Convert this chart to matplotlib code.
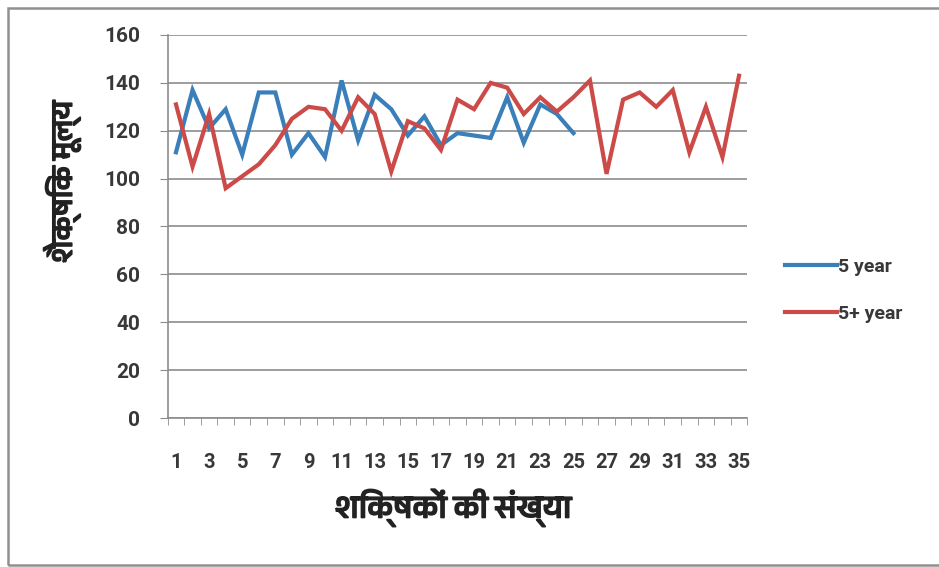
import matplotlib
matplotlib.use("Agg")
import matplotlib.pyplot as plt
from matplotlib import font_manager as fm
from matplotlib.patches import Rectangle
import matplotlib.patheffects as pe

categories = list(range(1, 36))
five_year = [111, 137, 121, 129, 110, 136, 136, 110, 119, 109, 141, 116, 135, 129, 118,
             126, 114, 119, 118, 117, 134, 115, 131, 127, 119]
five_plus_year = [131, 105, 127, 96, 101, 106, 114, 125, 130, 129, 120, 134, 127, 103, 124,
                  121, 112, 133, 129, 140, 138, 127, 134, 128, 134, 141, 102, 133, 136, 130,
                  137, 111, 130, 109, 143]
xtick_labels = [str(c) for c in categories[::2]]
yticks = list(range(0, 161, 20))
series_names = ["5 year", "5+ year"]
xlabel = "शिक्षकों की संख्या"
ylabel = "शैक्षिक मूल्य"

# find a Devanagari-capable font if any
deva = None
for f in fm.fontManager.ttflist:
    n = f.name.lower()
    if "devanagari" in n or "mangal" in n or "lohit" in n or "gargi" in n:
        deva = f.name
        break
hindi_family = ([deva] if deva else []) + ["DejaVu Sans"]
num_family = ["Roboto", "DejaVu Sans"]

W, H = 939, 567
fig = plt.figure(figsize=(W / 100, H / 100), dpi=100)
fig.patch.set_facecolor("white")

left, right, top, bottom = 167.7, 747.3, 35, 418
ax = fig.add_axes([left / W, 1 - bottom / H, (right - left) / W, (bottom - top) / H])

grid_c = "#8c8c8c"
ax.plot(categories[:len(five_year)], five_year, color="#3a7fba", lw=3.0,
        solid_joinstyle="miter", label=series_names[0])
ax.plot(categories[:len(five_plus_year)], five_plus_year, color="#cc4a47", lw=3.0,
        solid_joinstyle="miter", label=series_names[1])

ax.set_xlim(0.5, 35.5)
ax.set_ylim(0, 160)
ax.set_yticks(yticks)
ax.set_yticklabels([str(v) for v in yticks], family=num_family, fontsize=15,
                   fontweight="bold", color="#383838")
ax.set_xticks(categories[::2])
ax.set_xticklabels(xtick_labels, family=num_family, fontsize=14.5,
                   fontweight="bold", color="#383838")
ax.set_xticks([c + 0.5 for c in [0] + categories], minor=True)
ax.tick_params(axis="x", which="major", length=0, pad=25)
ax.tick_params(axis="x", which="minor", length=5, color=grid_c, direction="out")
ax.tick_params(axis="y", length=6, color=grid_c, direction="out", pad=14)

ax.grid(axis="y", color=grid_c, lw=1.2)
ax.set_axisbelow(True)
for s in ["top", "right"]:
    ax.spines[s].set_visible(False)
for s in ["left", "bottom"]:
    ax.spines[s].set_color(grid_c)
    ax.spines[s].set_linewidth(1.2)

leg = fig.legend(loc="upper left", bbox_to_anchor=(767 / W, 1 - 240 / H), frameon=False,
                 handlelength=2.7, handletextpad=0.05, labelspacing=1.5,
                 prop={"family": num_family, "size": 14, "weight": "bold"})
for t in leg.get_texts():
    t.set_color("#383838")

bold = [pe.withStroke(linewidth=1.2, foreground="#222222")]
fig.text(453 / W, 1 - 508 / H, xlabel, family=hindi_family, fontsize=23,
         fontweight="bold", color="#222222", ha="center", va="center", path_effects=bold)
fig.text(62 / W, 1 - 182 / H, ylabel, family=hindi_family, fontsize=21.5,
         fontweight="bold", color="#222222", ha="center", va="center", rotation=90,
         path_effects=bold)

fig.patches.append(Rectangle((8 / W, 1 - 565 / H), (W + 10) / W, (565 - 8) / H,
                             transform=fig.transFigure, fill=False,
                             edgecolor="#909090", lw=1.8))

fig.savefig("out.png", dpi=100)
